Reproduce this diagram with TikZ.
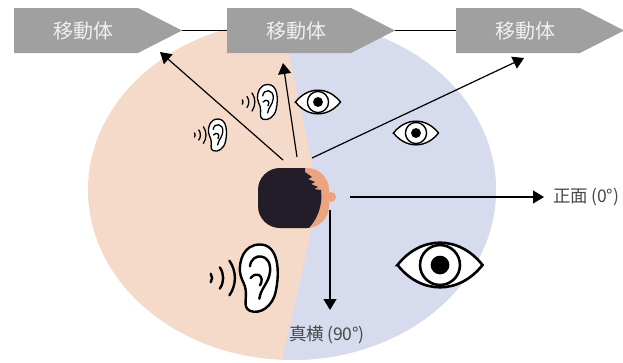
\documentclass[tikz,border=0pt]{standalone}
\usepackage{fontspec}
\setmainfont{Noto Sans CJK JP}
\usetikzlibrary{arrows.meta,calc}

\definecolor{peach}{HTML}{F6DAC9}
\definecolor{lavender}{HTML}{D6DCEE}
\definecolor{boxgray}{HTML}{9FA09F}
\definecolor{hair}{HTML}{231D29}
\definecolor{skin}{HTML}{EBA47F}
\definecolor{labelgray}{HTML}{484848}

\tikzset{
  % ear with sound waves, unit = half height
  ear/.pic={
    \draw[fill=white, line join=round] (-0.45,-0.25) .. controls (-0.35,-0.6) and (-0.55,-0.85) .. (-0.3,-0.98)
      .. controls (0,-1.1) and (0.38,-0.85) .. (0.47,-0.4)
      .. controls (0.6,0.2) and (0.55,1) .. (0,1)
      .. controls (-0.5,1) and (-0.62,0.5) .. (-0.6,0.2)
      .. controls (-0.58,0) and (-0.5,-0.1) .. cycle;
    \draw[line cap=round] (-0.3,0.35) .. controls (-0.25,0.78) and (0.35,0.75) .. (0.3,0.2)
      .. controls (0.27,-0.15) and (0.02,-0.3) .. (-0.02,-0.62);
    \draw[line cap=round] (-0.28,0.0) .. controls (-0.1,0.22) and (0.16,0.05) .. (0,-0.22);
    \foreach \r in {0.22,0.55,0.9}
      \draw[line cap=round] (-1.65,0) ++(-35:\r) arc[start angle=-35, end angle=35, radius=\r];
  },
  % eye, unit = half width
  eye/.pic={
    \draw[fill=white] (-1,0) .. controls (-0.45,0.7) and (0.45,0.7) .. (1,0)
      .. controls (0.45,-0.7) and (-0.45,-0.7) .. cycle;
    \draw (0,0) circle (0.47);
    \fill (0,0) circle (0.22);
  }
}

\begin{document}
\begin{tikzpicture}[x=1pt, y=1pt,
  mover/.style={text=white!88!gray, font=\fontsize{20}{22}\selectfont, inner sep=0},
  lbl/.style={text=labelgray, font=\fontsize{17.5}{19}\selectfont, inner sep=0},
  arr/.style={-{Triangle[length=11pt,width=13pt]}, line width=1.2pt},
  link/.style={line width=1.2pt}
]
\useasboundingbox (0,0) rectangle (623,-362);

% field around the head
\fill[peach] (292,-190) ellipse [x radius=204, y radius=170];
\begin{scope}
  \clip (292,-190) ellipse [x radius=204, y radius=170];
  \fill[lavender] (319,-198) -- (280,-10) -- (600,-10) -- (600,-400) -- (273,-400) -- cycle;
\end{scope}

% moving bodies
\foreach \i/\x in {1/14,2/227,3/456}{
  \fill[boxgray] (\x,-8) -- ++(124,0) -- ++(44,-22.5) -- ++(-44,-22.5) -- ++(-124,0) -- cycle;
  \node[mover] (m\i) at (\x+69,-30.5) {移動体};
  \coordinate (l\i) at (\x,-30.5);
  \coordinate (t\i) at (\x+168,-30.5);
}
\draw[link] (t1) -- (l2);
\draw[link] (t2) -- (l3);

% directions
\coordinate (h1) at (283,-160);
\coordinate (h2) at (297,-157);
\coordinate (h3) at (312,-158);
\coordinate (h4) at (350,-197);
\coordinate (h5) at (330,-210);
\coordinate (tipL) at (160,-52);
\coordinate (tipU) at (283,-63);
\coordinate (tipR) at (524,-58);
\coordinate (tipS) at (330,-310);

\node[lbl, anchor=west] (front) at (553,-197) {正面\,(0°)};
\node[lbl] (side) at (327,-335) {真横\,(90°)};

\draw[arr] (h1) -- (tipL);
\draw[arr] (h2) -- (tipU);
\draw[arr] (h3) -- (tipR);
\draw[arr] (h4) -- ([xshift=-9pt]front.west);
\draw[arr] (h5) -- (tipS);

% hearing and sight
\pic[scale=17.5, line width=1.3pt] at (268,-102) {ear};
\pic[scale=16, line width=1.3pt] at (218,-135) {ear};
\pic[scale=33.5, line width=2.4pt] at (260,-278) {ear};
\pic[scale=22.5, line width=1.4pt] at (318,-102) {eye};
\pic[scale=22.5, line width=1.4pt] at (416,-133) {eye};
\pic[scale=42.5, line width=2.6pt] at (440,-265) {eye};

% head seen from above
\fill[skin] (331,-197) circle (5);
\fill[skin, rounded corners=22] (258,-168) rectangle (329,-228);
\begin{scope}
  \clip[rounded corners=22] (258,-168) rectangle (329,-228);
  \fill[hair] (250,-160) -- (305,-160) -- (305,-172) -- (312,-177) -- (308,-179) -- (315,-182)
    -- (311,-184) -- (318,-187) -- (314,-189) -- (321,-190)
    .. controls (323,-205) and (318,-220) .. (305,-232) -- (250,-235) -- cycle;
\end{scope}
\end{tikzpicture}
\end{document}
